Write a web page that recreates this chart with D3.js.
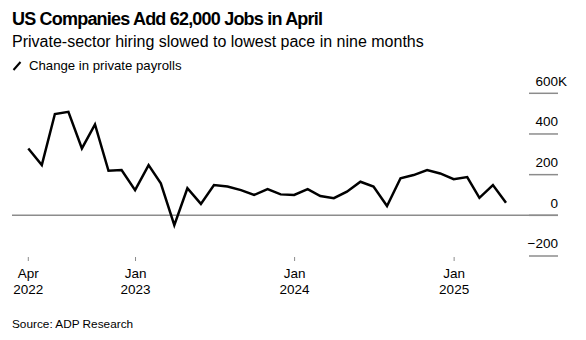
<!DOCTYPE html>
<html>
<head>
<meta charset="utf-8">
<script src="https://cdn.jsdelivr.net/npm/d3@7"></script>
<style>
  html, body { margin: 0; padding: 0; background: #fff; }
  svg { display: block; font-family: "Liberation Sans", Arial, Helvetica, sans-serif; }
</style>
</head>
<body>
<svg id="chart" width="586" height="340"></svg>
<script>
// Monthly change in private payrolls (thousands), Apr 2022 – Apr 2025
const months = [
  "2022-04","2022-05","2022-06","2022-07","2022-08","2022-09","2022-10","2022-11","2022-12",
  "2023-01","2023-02","2023-03","2023-04","2023-05","2023-06","2023-07","2023-08","2023-09",
  "2023-10","2023-11","2023-12","2024-01","2024-02","2024-03","2024-04","2024-05","2024-06",
  "2024-07","2024-08","2024-09","2024-10","2024-11","2024-12","2025-01","2025-02","2025-03","2025-04"
];
const payrolls = [
  329, 247, 498, 509, 329, 447, 219, 223, 124,
  247, 157, -48, 133, 56, 149, 142, 124, 100,
  129, 103, 100, 129, 95, 84, 116, 165, 141,
  46, 182, 198, 223, 206, 178, 188, 86, 149, 62
];
const yTicks = [-200, 0, 200, 400, 600];
const yUnit = "K";
const xTickDates = ["2022-04-30", "2023-01-01", "2024-01-01", "2025-01-01"];

const title = "US Companies Add 62,000 Jobs in April";
const subtitle = "Private-sector hiring slowed to lowest pace in nine months";
const legendLabel = "Change in private payrolls";
const source = "Source: ADP Research";

// each monthly reading is dated at the end of its month
const monthEnd = s => {
  const [y, m] = s.split("-").map(Number);
  return new Date(Date.UTC(y, m, 0));
};
const data = months.map((m, i) => ({ date: monthEnd(m), value: payrolls[i] }));

const svg = d3.select("#chart");

const x = d3.scaleUtc()
  .domain(d3.extent(data, d => d.date))
  .range([28.3, 506]);
const y = d3.scaleLinear()
  .domain([-200, 600])
  .range([256, 93.3]);

// header
svg.append("text").attr("x", 12).attr("y", 24.5)
  .attr("font-size", 18).attr("font-weight", "bold").attr("fill", "#000")
  .attr("letter-spacing", -0.8)
  .text(title);
svg.append("text").attr("x", 12).attr("y", 47)
  .attr("font-size", 16).attr("fill", "#000")
  .text(subtitle);

// legend
const lg = svg.append("g").attr("transform", "translate(12,61)");
lg.append("line").attr("x1", 1.5).attr("y1", 9).attr("x2", 8.5).attr("y2", 1)
  .attr("stroke", "#000").attr("stroke-width", 2);
lg.append("text").attr("x", 17).attr("y", 9)
  .attr("font-size", 13.2).attr("fill", "#000")
  .text(legendLabel);

// y axis on the right: short rules with labels above, unit hanging past the edge
const yAxis = svg.append("g");
yAxis.selectAll("line.tick").data(yTicks).join("line")
  .attr("class", "tick")
  .attr("x1", 529).attr("x2", 558)
  .attr("y1", d => y(d)).attr("y2", d => y(d))
  .attr("stroke", "#8c8c8c").attr("stroke-width", 1.5);
yAxis.selectAll("text.num").data(yTicks).join("text")
  .attr("class", "num")
  .attr("x", 558).attr("y", d => y(d) - 7.8)
  .attr("text-anchor", "end").attr("font-size", 13.5).attr("fill", "#000")
  .text(d => d3.format("d")(d));
yAxis.selectAll("text.unit").data(yTicks.slice(-1)).join("text")
  .attr("class", "unit")
  .attr("x", 558).attr("y", d => y(d) - 7.8)
  .attr("font-size", 13.5).attr("fill", "#000")
  .text(yUnit);

// zero baseline across the plot
svg.append("line")
  .attr("x1", 12).attr("x2", 558)
  .attr("y1", y(0)).attr("y2", y(0))
  .attr("stroke", "#8c8c8c").attr("stroke-width", 1.5);

// x axis
const xTicks = xTickDates.map(s => new Date(s + "T00:00:00Z"));
const xAxis = svg.append("g");
xAxis.selectAll("line").data(xTicks).join("line")
  .attr("x1", d => x(d)).attr("x2", d => x(d))
  .attr("y1", 257).attr("y2", 261)
  .attr("stroke", "#8c8c8c").attr("stroke-width", 1);
const xl = xAxis.selectAll("text").data(xTicks).join("text")
  .attr("text-anchor", "middle").attr("font-size", 13.5).attr("fill", "#000");
xl.append("tspan").attr("x", d => x(d)).attr("y", 278).text(d => d3.utcFormat("%b")(d));
xl.append("tspan").attr("x", d => x(d)).attr("y", 294).text(d => d3.utcFormat("%Y")(d));

// payroll line
const line = d3.line().x(d => x(d.date)).y(d => y(d.value)).curve(d3.curveLinear);
svg.append("path").datum(data)
  .attr("d", line)
  .attr("fill", "none").attr("stroke", "#000")
  .attr("stroke-width", 2.5).attr("stroke-linejoin", "miter");

// source
svg.append("text").attr("x", 12).attr("y", 328)
  .attr("font-size", 11.8).attr("fill", "#000")
  .text(source);
</script>
</body>
</html>
